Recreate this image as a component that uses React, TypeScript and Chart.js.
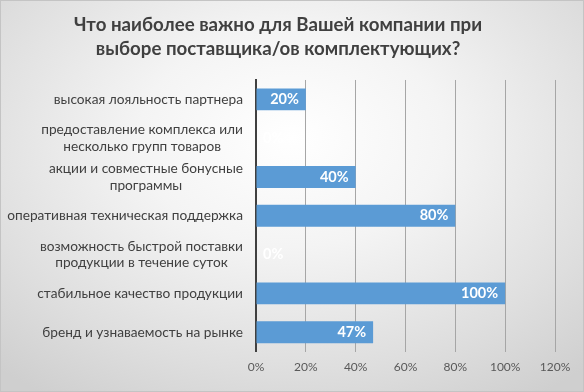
import React, { useEffect, useRef } from "react";
import { Chart, registerables } from "chart.js";

Chart.register(...registerables);

const titleLines = ["Что наиболее важно для Вашей компании при", "выборе поставщика/ов комплектующих?"];

const categories: string[][] = [
  ["высокая лояльность партнера"],
  ["предоставление комплекса или", "несколько групп товаров"],
  ["акции и совместные бонусные", "программы"],
  ["оперативная техническая поддержка"],
  ["возможность быстрой поставки", "продукции в течение суток"],
  ["стабильное качество продукции"],
  ["бренд и узнаваемость на рынке"],
];

const values = [0.2, 0, 0.4, 0.8, 0, 1.0, 0.47];

const xTicks = [0, 0.2, 0.4, 0.6, 0.8, 1.0, 1.2];

const FONT = "Lato, 'Open Sans', sans-serif";

const labelsPlugin = {
  id: "customLabels",
  afterDraw(chart: any) {
    const ctx = chart.ctx;
    const yScale = chart.scales.y;
    const area = chart.chartArea;
    ctx.save();
    // category labels
    ctx.font = `13.7px ${FONT}`;
    ctx.fillStyle = "#404040";
    ctx.textBaseline = "middle";
    ctx.textAlign = "center";
    const rightEdge = area.left - 13;
    const lh = 16.5;
    categories.forEach((lines, i) => {
      const y = yScale.getPixelForTick(i);
      const maxW = Math.max(...lines.map((l) => ctx.measureText(l).width));
      const cx = rightEdge - maxW / 2;
      const startY = y - ((lines.length - 1) * lh) / 2;
      lines.forEach((l, j) => ctx.fillText(l, cx, startY + j * lh));
    });
    // data labels
    const meta = chart.getDatasetMeta(0);
    ctx.font = `bold 14.5px ${FONT}`;
    ctx.fillStyle = "#ffffff";
    meta.data.forEach((bar: any, i: number) => {
      const v = values[i];
      const txt = Math.round(v * 100) + "%";
      if (v > 0) {
        ctx.textAlign = "right";
        ctx.fillText(txt, bar.x - 7, bar.y);
      } else {
        ctx.textAlign = "left";
        ctx.fillText(txt, bar.base + 7, bar.y);
      }
    });
    ctx.restore();
  },
};

export default function App() {
  const ref = useRef<HTMLCanvasElement>(null);
  useEffect(() => {
    if (!ref.current) return;
    const chart = new Chart(ref.current, {
      type: "bar",
      data: {
        labels: categories.map((c) => c.join(" ")),
        datasets: [
          {
            data: values,
            backgroundColor: "#5b9bd5",
            borderWidth: 0,
            categoryPercentage: 1,
            barPercentage: 0.565,
          },
        ],
      },
      options: {
        indexAxis: "y",
        animation: false,
        responsive: false,
        layout: { padding: { left: 0, right: 28, top: 0, bottom: 9 } },
        plugins: {
          legend: { display: false },
          tooltip: { enabled: false },
          title: {
            display: true,
            text: titleLines,
            color: "#404040",
            font: { family: FONT, size: 18.7, weight: "bold", lineHeight: 1.27 },
            padding: { top: 12, bottom: 19.5 },
          },
        },
        scales: {
          x: {
            min: 0,
            max: 1.2,
            afterBuildTicks: (scale: any) => {
              scale.ticks = xTicks.map((v) => ({ value: v }));
            },
            ticks: {
              color: "#595959",
              font: { family: FONT, size: 12 },
              padding: 8,
              callback: (v: any) => Math.round(Number(v) * 100) + "%",
            },
            grid: { color: "#a6a6a6", lineWidth: 1, drawTicks: false },
            border: { display: false },
          },
          y: {
            ticks: { display: false },
            grid: { display: false, drawTicks: false },
            border: { display: true, color: "#404040", width: 2 },
            afterFit: (scale: any) => {
              scale.width = 255;
            },
          },
        },
      },
      plugins: [labelsPlugin],
    } as any);
    return () => chart.destroy();
  }, []);

  return (
    <div
      style={{
        position: "fixed",
        left: 0,
        top: 0,
        width: 584,
        height: 392,
        boxSizing: "border-box",
        border: "1px solid #c4c4c4",
        background:
          "radial-gradient(ellipse 75% 80% at 50% 35%, #ffffff 0%, #f4f4f4 35%, #dedede 75%, #cfcfcf 100%)",
      }}
    >
      <canvas ref={ref} width={582} height={390} style={{ display: "block", width: 582, height: 390 }} />
    </div>
  );
}
